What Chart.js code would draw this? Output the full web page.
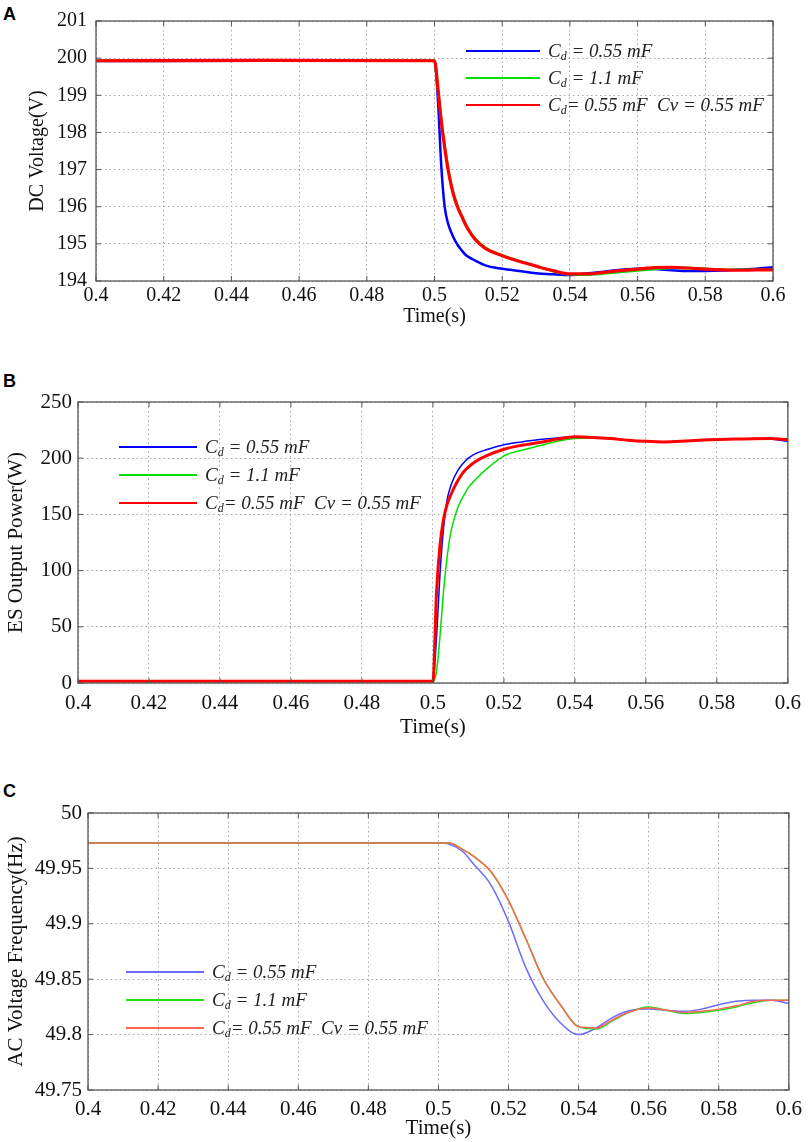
<!DOCTYPE html>
<html><head><meta charset="utf-8">
<script src="https://cdn.jsdelivr.net/npm/chart.js@4.4.1/dist/chart.umd.min.js"></script>
<style>
html,body{margin:0;padding:0;background:#fff;}
#page{position:relative;width:809px;height:1142px;overflow:hidden;background:#fff;}
canvas{position:absolute;left:0;}
.tag{position:absolute;left:3px;font:bold 18px "Liberation Sans",Arial,sans-serif;color:#000;line-height:1;}
.sw{position:absolute;height:2px;}
.tx{position:absolute;font:italic 19px "Liberation Serif","Times New Roman",serif;color:#222;white-space:nowrap;line-height:1;transform:translateY(-55%);}
.tx sub{font-size:12px;vertical-align:-3px;line-height:0;}
</style>
</head><body>
<div id="page">
  <div class="tag" style="top:5px">A</div>
  <div class="tag" style="top:372px">B</div>
  <div class="tag" style="top:782px">C</div>
  <canvas id="cA" width="809" height="335" style="top:0px"></canvas>
  <canvas id="cB" width="809" height="400" style="top:340px"></canvas>
  <canvas id="cC" width="809" height="402" style="top:740px"></canvas>
</div>
<script>
// ---------- DATA ----------
const seriesNames = ['C<sub>d</sub> = 0.55 mF', 'C<sub>d</sub> = 1.1 mF', 'C<sub>d</sub>= 0.55 mF&nbsp; Cv = 0.55 mF'];
const xTickLabels = ['0.4','0.42','0.44','0.46','0.48','0.5','0.52','0.54','0.56','0.58','0.6'];

// Panel A: DC Voltage (V)
const timeA = [0.4, 0.45, 0.5, 0.501, 0.502, 0.503, 0.504, 0.505, 0.506, 0.507, 0.508, 0.509, 0.51, 0.512, 0.515, 0.52, 0.525, 0.53, 0.535, 0.54, 0.545, 0.55, 0.555, 0.56, 0.565, 0.57, 0.575, 0.58, 0.585, 0.59, 0.595, 0.6];
const dcBlue  = [199.92, 199.93, 199.93, 198.9, 197.1, 196.0, 195.55, 195.3, 195.1, 194.95, 194.83, 194.72, 194.65, 194.55, 194.42, 194.33, 194.27, 194.21, 194.18, 194.16, 194.2, 194.25, 194.3, 194.33, 194.32, 194.29, 194.27, 194.27, 194.28, 194.31, 194.33, 194.37];
const dcGreen = [199.93, 199.93, 199.93, 199.15, 198.35, 197.65, 197.05, 196.58, 196.25, 195.97, 195.77, 195.57, 195.4, 195.14, 194.9, 194.69, 194.54, 194.4, 194.27, 194.18, 194.17, 194.2, 194.24, 194.28, 194.32, 194.35, 194.35, 194.33, 194.31, 194.3, 194.3, 194.3];
const dcRed   = [199.93, 199.94, 199.93, 199.2, 198.3, 197.6, 197.0, 196.55, 196.2, 195.95, 195.75, 195.55, 195.38, 195.12, 194.88, 194.68, 194.53, 194.4, 194.28, 194.19, 194.19, 194.23, 194.28, 194.32, 194.36, 194.37, 194.35, 194.32, 194.3, 194.29, 194.3, 194.3];
const yTicksA = [194, 195, 196, 197, 198, 199, 200, 201];

// Panel B: ES output power (W)
const timeB = [0.4, 0.45, 0.5, 0.501, 0.502, 0.503, 0.504, 0.505, 0.506, 0.507, 0.508, 0.509, 0.51, 0.512, 0.515, 0.52, 0.525, 0.53, 0.535, 0.54, 0.545, 0.55, 0.555, 0.56, 0.565, 0.57, 0.575, 0.58, 0.585, 0.59, 0.595, 0.6];
const pBlue  = [1.5, 1.5, 1.5, 40, 98, 138, 163, 175, 183, 189, 193.5, 197, 200, 204, 207.5, 212, 214.5, 216.6, 218, 219, 218.5, 217.4, 216, 215, 214.5, 215, 216, 216.6, 217, 217.4, 217, 215];
const pGreen = [1.5, 1.5, 1.5, 10, 42, 82, 112, 133.5, 146, 156, 163, 168.5, 174, 181, 190, 202, 207, 211, 215, 217.5, 218, 217.5, 216, 215, 214.5, 215, 216, 216.6, 217, 217.4, 217.5, 216.6];
const pRed   = [1.5, 1.5, 1.5, 80, 123, 146, 159, 167, 174, 180, 185, 189, 192, 197, 202, 208, 211.5, 214, 217, 219, 218.5, 217.5, 216, 215, 214.5, 215, 216, 216.6, 217, 217.4, 217.5, 216.6];
const yTicksB = [0, 50, 100, 150, 200, 250];

// Panel C: AC voltage frequency (Hz)
const timeC = [0.4, 0.45, 0.5, 0.503, 0.507, 0.51, 0.515, 0.52, 0.525, 0.53, 0.535, 0.54, 0.545, 0.55, 0.555, 0.56, 0.565, 0.57, 0.575, 0.58, 0.585, 0.59, 0.595, 0.6];
const fBlue  = [49.973, 49.973, 49.973, 49.972, 49.965, 49.954, 49.935, 49.902, 49.86, 49.83, 49.81, 49.8, 49.806, 49.816, 49.822, 49.823, 49.822, 49.821, 49.823, 49.827, 49.83, 49.831, 49.831, 49.828];
const fGreen = [49.973, 49.973, 49.973, 49.973, 49.967, 49.961, 49.947, 49.921, 49.886, 49.85, 49.826, 49.807, 49.805, 49.813, 49.821, 49.825, 49.822, 49.819, 49.82, 49.822, 49.825, 49.829, 49.831, 49.831];
const fRed   = [49.973, 49.973, 49.973, 49.973, 49.967, 49.961, 49.947, 49.921, 49.886, 49.85, 49.826, 49.807, 49.806, 49.814, 49.821, 49.824, 49.822, 49.82, 49.821, 49.823, 49.826, 49.83, 49.831, 49.831];
const yTicksC = [49.75, 49.8, 49.85, 49.9, 49.95, 50];

// ---------- STYLE / LAYOUT ----------
const SERIF = '"Liberation Serif","Times New Roman",serif';
Chart.defaults.font.family = SERIF;
Chart.defaults.color = '#111';

const framePlugin = {
  id: 'frame',
  afterDatasetsDraw(chart) {
    const {ctx, chartArea: a, scales} = chart;
    ctx.save();
    ctx.strokeStyle = '#555';
    ctx.lineWidth = 1.3;
    ctx.strokeRect(a.left, a.top, a.right - a.left, a.bottom - a.top);
    ctx.lineWidth = 1;
    const tl = 5;
    scales.x.ticks.forEach(t => {
      const px = scales.x.getPixelForValue(t.value);
      ctx.beginPath();
      ctx.moveTo(px, a.bottom); ctx.lineTo(px, a.bottom - tl);
      ctx.moveTo(px, a.top); ctx.lineTo(px, a.top + tl);
      ctx.stroke();
    });
    scales.y.ticks.forEach(t => {
      const py = scales.y.getPixelForValue(t.value);
      ctx.beginPath();
      ctx.moveTo(a.left, py); ctx.lineTo(a.left + tl, py);
      ctx.moveTo(a.right, py); ctx.lineTo(a.right - tl, py);
      ctx.stroke();
    });
    ctx.restore();
  }
};

function pts(xs, ys) { return xs.map((x, i) => ({x: x, y: ys[i]})); }

function makeChart(id, p) {
  const datasets = p.series.map((s, i) => ({
    label: seriesNames[i],
    data: pts(p.time, s),
    borderColor: p.colors[i],
    borderWidth: p.widths[i],
    pointRadius: 0,
    fill: false,
    cubicInterpolationMode: 'monotone',
    order: 3 - i
  }));
  new Chart(document.getElementById(id), {
    type: 'line',
    data: { datasets },
    plugins: [framePlugin],
    options: {
      responsive: false,
      animation: false,
      events: [],
      layout: { padding: { top: p.padTop, right: p.padRight, left: 0, bottom: 0 } },
      plugins: { legend: { display: false }, tooltip: { enabled: false } },
      scales: {
        x: {
          type: 'linear', min: 0.4, max: 0.6,
          afterBuildTicks: (sc) => { sc.ticks = xTickLabels.map(v => ({value: +v})); },
          afterFit: (sc) => { sc.height = p.xHeight; },
          grid: { color: '#a8a8a8', lineWidth: 1, drawTicks: false },
          border: { display: false, dash: [1.5, 3] },
          ticks: { padding: p.xTickPad, maxRotation: 0, autoSkip: false, font: { size: p.tickSize }, color: '#111',
                   callback: (v) => String(+(+v).toFixed(2)) },
          title: { display: true, text: 'Time(s)', font: { size: p.titleSize }, color: '#111', padding: { top: 0, bottom: p.xTitlePad } }
        },
        y: {
          min: p.yTicks[0], max: p.yTicks[p.yTicks.length - 1],
          afterBuildTicks: (sc) => { sc.ticks = p.yTicks.map(v => ({value: v})); },
          afterFit: (sc) => { sc.width = p.yWidth; },
          grid: { color: '#a8a8a8', lineWidth: 1, drawTicks: false },
          border: { display: false, dash: [1.5, 3] },
          ticks: { padding: p.yTickPad, font: { size: p.tickSize }, color: '#111',
                   callback: (v) => String(+(+v).toFixed(2)) },
          title: { display: true, text: p.yTitle, font: { size: p.yTitleSize }, color: '#111', padding: { top: p.yTitlePad, bottom: 0 } }
        }
      }
    }
  });
  // legend (HTML, keeps subscript as real text)
  const page = document.getElementById('page');
  p.series.forEach((s, i) => {
    const y = p.legTop + p.canvasTop + i * p.legGap;
    const sw = document.createElement('div');
    sw.className = 'sw';
    sw.style.left = p.legX + 'px';
    sw.style.width = p.legLen + 'px';
    sw.style.top = (y - 1) + 'px';
    sw.style.background = p.colors[i];
    page.appendChild(sw);
    const tx = document.createElement('div');
    tx.className = 'tx';
    tx.style.left = (p.legX + p.legLen + 8) + 'px';
    tx.style.top = y + 'px';
    tx.innerHTML = seriesNames[i];
    page.appendChild(tx);
  });
}

makeChart('cA', {
  time: timeA, series: [dcBlue, dcGreen, dcRed], yTicks: yTicksA,
  colors: ['#0000ff', '#00e000', '#ff0000'], widths: [2.5, 2.5, 3.2],
  canvasTop: 0, padTop: 16, padRight: 36, yWidth: 96, xHeight: 54,
  tickSize: 20, titleSize: 20, yTitleSize: 20, xTickPad: 3, xTitlePad: 6, yTickPad: 9, yTitlePad: 26,
  yTitle: 'DC Voltage(V)', legX: 466, legLen: 74, legTop: 51, legGap: 27
});
makeChart('cB', {
  time: timeB, series: [pBlue, pGreen, pRed], yTicks: yTicksB,
  colors: ['#0000ff', '#00e000', '#ff0000'], widths: [1.5, 1.5, 3],
  canvasTop: 340, padTop: 62, padRight: 16, yWidth: 78, xHeight: 57,
  tickSize: 21, titleSize: 21, yTitleSize: 21, xTickPad: 8, xTitlePad: 0, yTickPad: 6, yTitlePad: 4,
  yTitle: 'ES Output Power(W)', legX: 119, legLen: 78, legTop: 107, legGap: 28
});
makeChart('cC', {
  time: timeC, series: [fBlue, fGreen, fRed], yTicks: yTicksC,
  colors: ['#6b6bff', '#1ee01e', '#ff6655'], widths: [1.5, 1.5, 1.5],
  canvasTop: 740, padTop: 73, padRight: 16, yWidth: 88, xHeight: 52,
  tickSize: 21, titleSize: 21, yTitleSize: 21, xTickPad: 7, xTitlePad: 1, yTickPad: 6, yTitlePad: 4,
  yTitle: 'AC Voltage Frequency(Hz)', legX: 126, legLen: 78, legTop: 232, legGap: 28
});
</script>
</body></html>
